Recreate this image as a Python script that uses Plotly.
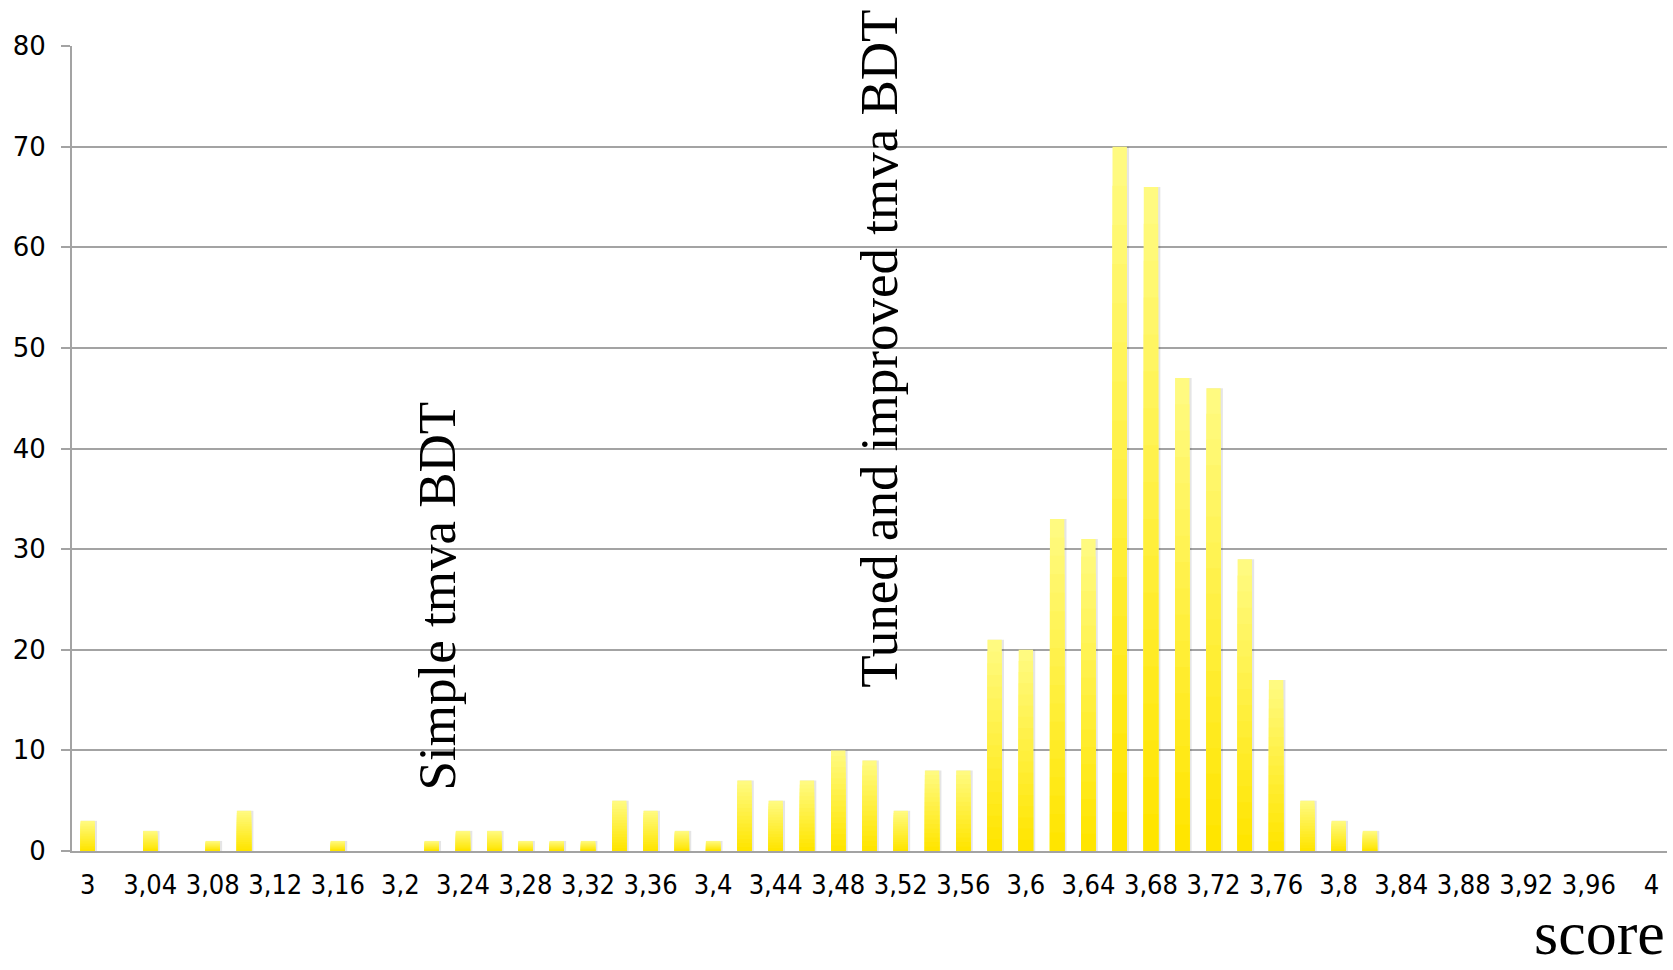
import plotly.graph_objects as go

# Score bins (comma decimal separator) and the number of entries in each bin
CATEGORIES = [
    "3", "3,02", "3,04", "3,06", "3,08", "3,1", "3,12", "3,14", "3,16", "3,18",
    "3,2", "3,22", "3,24", "3,26", "3,28", "3,3", "3,32", "3,34", "3,36", "3,38",
    "3,4", "3,42", "3,44", "3,46", "3,48", "3,5", "3,52", "3,54", "3,56", "3,58",
    "3,6", "3,62", "3,64", "3,66", "3,68", "3,7", "3,72", "3,74", "3,76", "3,78",
    "3,8", "3,82", "3,84", "3,86", "3,88", "3,9", "3,92", "3,94", "3,96", "3,98",
    "4",
]
COUNTS = [
    3, 0, 2, 0, 1, 4, 0, 0, 1, 0,
    0, 1, 2, 2, 1, 1, 1, 5, 4, 2,
    1, 7, 5, 7, 10, 9, 4, 8, 8, 21,
    20, 33, 31, 70, 66, 47, 46, 29, 17, 5,
    3, 2, 0, 0, 0, 0, 0, 0, 0, 0,
    0,
]
# every other bin gets a label on the axis
TICK_LABELS = CATEGORIES[::2]

Y_TICKS = [0, 10, 20, 30, 40, 50, 60, 70, 80]

GRID = "#A3A3A3"
TOP_RGB = (255, 250, 128)
BOTTOM_RGB = (255, 229, 0)
BAR_WIDTH = 0.46

fig = go.Figure()

# soft drop shadow behind each bar
fig.add_trace(go.Bar(
    x=CATEGORIES, y=COUNTS, width=BAR_WIDTH + 0.05, offset=-BAR_WIDTH / 2 + 0.02,
    marker=dict(color="rgba(0,0,0,0.10)", line=dict(width=0)),
    hoverinfo="skip", showlegend=False,
))

# vertical gradient: overlaid bars of decreasing height, light at top, saturated at bottom
N_LAYERS = 18
for k in range(N_LAYERS):
    frac = (N_LAYERS - k) / N_LAYERS
    t = k / (N_LAYERS - 1)
    r, g, b = (round(a + (c - a) * t) for a, c in zip(TOP_RGB, BOTTOM_RGB))
    fig.add_trace(go.Bar(
        x=CATEGORIES, y=[v * frac for v in COUNTS], width=BAR_WIDTH,
        marker=dict(color=f"rgb({r},{g},{b})", line=dict(width=0)),
        hoverinfo="skip" if k else "x+y", showlegend=False,
    ))

fig.update_layout(
    width=1673, height=970,
    margin=dict(l=72, r=6, t=46, b=119),
    paper_bgcolor="white", plot_bgcolor="white",
    barmode="overlay",
    showlegend=False,
    xaxis=dict(
        type="category", categoryorder="array", categoryarray=CATEGORIES,
        range=[-0.5, len(CATEGORIES) - 0.5],
        tickmode="array", tickvals=TICK_LABELS,
        ticks="outside", ticklen=9, tickcolor="rgba(0,0,0,0)",
        tickfont=dict(family="DejaVu Sans Condensed, Liberation Sans, sans-serif", size=27, color="black"),
        showline=True, linecolor=GRID, linewidth=2,
        showgrid=False, zeroline=False,
    ),
    # boundary tick marks between bins
    xaxis2=dict(
        overlaying="x", anchor="y", side="bottom",
        range=[-0.5, len(CATEGORIES) - 0.5],
        tickmode="array", tickvals=[i - 0.5 for i in range(len(CATEGORIES) + 1)],
        ticks="outside", ticklen=9, tickwidth=2, tickcolor=GRID,
        showticklabels=False, showgrid=False, zeroline=False, showline=False,
    ),
    yaxis=dict(
        range=[0, 80], tickmode="array", tickvals=Y_TICKS,
        ticks="outside", ticklen=9, tickwidth=2, tickcolor=GRID,
        ticklabelstandoff=10,
        tickfont=dict(family="DejaVu Sans, sans-serif", size=26, color="black"),
        showline=True, linecolor=GRID, linewidth=2,
        showgrid=True, gridcolor=GRID, gridwidth=2,
        zeroline=False,
    ),
    font=dict(family="Liberation Serif, serif", color="black"),
)

annotation_font = dict(family="Liberation Serif, Times New Roman, serif", size=53, color="black")
fig.add_annotation(
    text="Simple tmva BDT", xref="paper", yref="paper",
    x=0.2286, y=0.317, xanchor="center", yanchor="middle",
    textangle=-90, showarrow=False, font=annotation_font,
)
fig.add_annotation(
    text="Tuned and improved tmva BDT", xref="paper", yref="paper",
    x=0.506, y=0.624, xanchor="center", yanchor="middle",
    textangle=-90, showarrow=False, font=annotation_font,
)
fig.add_annotation(
    text="score", xref="paper", yref="paper",
    x=1.0, y=-0.147, xanchor="right", yanchor="bottom",
    showarrow=False,
    font=dict(family="Liberation Serif, Times New Roman, serif", size=62, color="black"),
)

fig.write_html("out.html")
